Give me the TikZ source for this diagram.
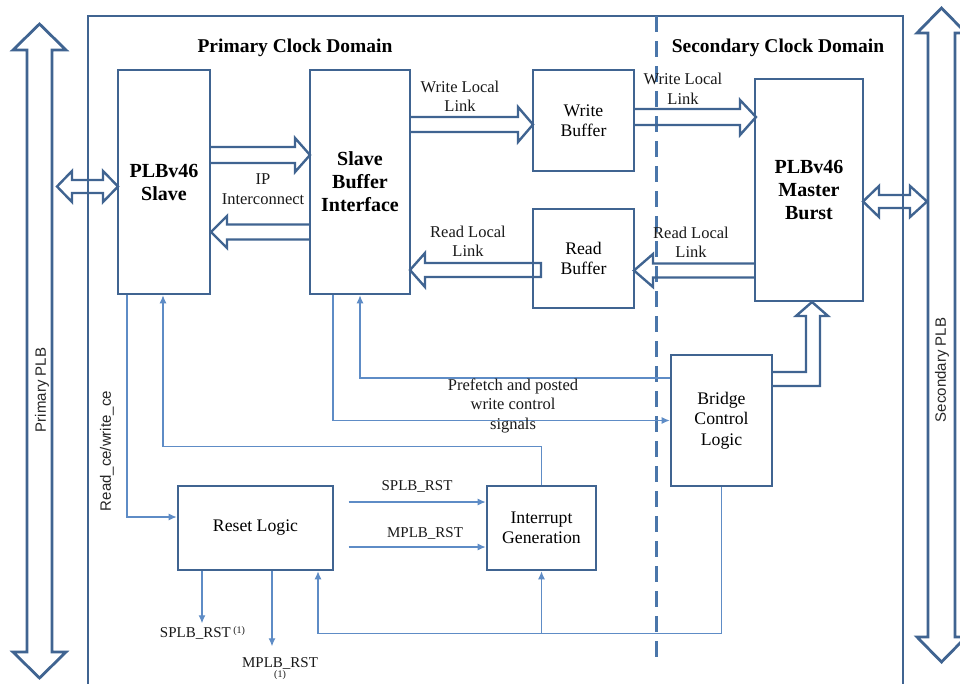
\documentclass[tikz,border=0pt]{standalone}
\usepackage{fontspec}
\setmainfont{Liberation Serif}
\setsansfont{Liberation Sans}
\usetikzlibrary{arrows.meta,calc}
\definecolor{bord}{RGB}{64,100,145}
\definecolor{lnk}{RGB}{94,140,198}
\definecolor{dsh}{RGB}{74,118,170}
\tikzset{
  box/.style={draw=bord, line width=2.6pt, fill=white, align=center, inner sep=2pt},
  nt/.style={font=\fontsize{17.7}{20.5}\selectfont},
  bt/.style={font=\fontsize{20}{23}\selectfont\bfseries},
  lbl/.style={font=\fontsize{16.5}{19.5}\selectfont, align=center, inner sep=0pt, text=black!90},
  sl/.style={font=\fontsize{15}{18}\selectfont, inner sep=0pt, text=black!90},
  ttl/.style={font=\fontsize{19.5}{22}\selectfont\bfseries, inner sep=0pt},
  side/.style={font=\sffamily\fontsize{15}{18}\selectfont, inner sep=0pt, rotate=90, text=black!85},
  conn/.style={draw=lnk, line width=1.2pt, -{Latex[length=8pt,width=7pt]}},
  barrow/.style={draw=bord, line width=2.4pt, line join=miter},
  bus/.style={draw=bord, line width=2.8pt, line join=miter},
}
\begin{document}
\begin{tikzpicture}[x=1pt,y=-1pt]
\useasboundingbox[fill=white] (0,0) rectangle (960,683);

% frame and clock-domain divider
\draw[bord, line width=2.8pt] (88,700) -- (88,16) -- (903,16) -- (903,700);
\draw[dsh, line width=3pt, dash pattern=on 16pt off 9pt] (656,16) -- (656,662);

\node[ttl] (ptitle) at (295,48) {Primary Clock Domain};
\node[ttl] (stitle) at (778,48) {Secondary Clock Domain};

% boxes
\node[box, bt, minimum width=92, minimum height=224] (slave) at (164,182) {PLBv46\\Slave};
\node[box, bt, minimum width=100, minimum height=224] (sbi) at (360,182) {Slave\\Buffer\\Interface};
\node[box, nt, minimum width=101, minimum height=101] (wbuf) at (583.5,120.5) {Write\\Buffer};
\node[box, nt, minimum width=101, minimum height=99] (rbuf) at (583.5,258.5) {Read\\Buffer};
\node[box, bt, minimum width=108, minimum height=222] (master) at (809,190) {PLBv46\\Master\\Burst};
\node[box, nt, minimum width=101, minimum height=131] (bcl) at (721.5,420.5) {Bridge\\Control\\Logic};
\node[box, nt, minimum width=155, minimum height=84] (reset) at (255.5,528) {Reset Logic};
\node[box, nt, minimum width=109, minimum height=84] (intr) at (541.5,528) {Interrupt\\Generation};

% PLB buses
\draw[bus] (27,50) -- (13,50) -- (39.5,24) -- (66,50) -- (52,50) -- (52,652) -- (66,652) -- (39.5,678) -- (13,652) -- (27,652) -- cycle;
\draw[bus] (928,33) -- (917,33) -- (941.5,8) -- (966,33) -- (955,33) -- (955,637) -- (966,637) -- (941.5,662) -- (917,637) -- (928,637) -- cycle;
\node[side] (pplb) at (42,390) {Primary PLB};
\node[side] (splb) at (942,370) {Secondary PLB};

% bus connections
\draw[barrow] (72,180) -- (72,171) -- (57,186.5) -- (72,202) -- (72,193) -- (103,193) -- (103,202) -- (118,186.5) -- (103,171) -- (103,180) -- cycle;
\draw[barrow] (879,195) -- (879,186) -- (863,201.5) -- (879,217) -- (879,208) -- (910,208) -- (910,217) -- (927,201.5) -- (910,186) -- (910,195) -- cycle;

% block arrows
\draw[barrow] (210,147) -- (295,147) -- (295,138) -- (310,155) -- (295,172) -- (295,163) -- (210,163);
\draw[barrow] (310,224.5) -- (227,224.5) -- (227,216) -- (211,232) -- (227,248) -- (227,239.5) -- (310,239.5);
\draw[barrow] (410,117) -- (518,117) -- (518,107) -- (533,124.5) -- (518,142) -- (518,132) -- (410,132);
\draw[barrow] (541,263) -- (425,263) -- (425,253) -- (410,270) -- (425,287) -- (425,277) -- (541,277) -- cycle;
\draw[barrow] (634,109) -- (740,109) -- (740,100) -- (756,117) -- (740,135) -- (740,125) -- (634,125);
\draw[barrow] (755,263.5) -- (653,263.5) -- (653,254) -- (634,270.5) -- (653,287) -- (653,277.5) -- (755,277.5);
\draw[barrow] (772,386) -- (820,386) -- (820,316) -- (828,316) -- (812,302) -- (796,316) -- (806,316) -- (806,372) -- (772,372);

\node[lbl] (ipl) at (263,189) {IP\\Interconnect};
\node[lbl] (wll) at (460,96.5) {Write Local\\Link};
\node[lbl] (rll) at (468,241.5) {Read Local\\Link};
\node[lbl] (wll2) at (683,89) {Write Local\\Link};
\node[lbl] (rll2) at (691,242.5) {Read Local\\Link};

% thin control connections
\draw[conn] ($(slave.south)+(-37,0)$) |- ($(reset.west)+(0,-11)$);
\draw[conn] (intr.north) -- ++(0,-38) -| ($(slave.south)+(-1,0)$);
\draw[conn] ($(sbi.south)+(-27,0)$) |- (bcl.west);
\draw[conn] ($(bcl.west)+(0,-42.5)$) -| (sbi.south);
\node[lbl] (pref) at (513,405.5) {Prefetch and posted\\write control\\signals};
\node[side] (rce) at (107,451) {Read\_ce/write\_ce};

\draw[conn] ($(intr.west)+(-137,-26)$) -- ($(intr.west)+(0,-26)$);
\draw[conn] ($(intr.west)+(-137,19)$) -- ($(intr.west)+(0,19)$);
\node[sl] (s1) at (417,486) {SPLB\_RST};
\node[sl] (m1) at (425,533) {MPLB\_RST};

\coordinate (j) at ($(reset.south)+(62.5,62)$);
\draw[conn] (bcl.south) |- (j) -- ($(reset.south)+(62.5,0)$);
\draw[conn] (intr.south |- j) -- (intr.south);

\draw[conn] ($(reset.south)+(-53.5,0)$) -- ++(0,52);
\draw[conn] ($(reset.south)+(16.5,0)$) -- ++(0,75);
\node[sl] (s2) at (202.5,633) {SPLB\_RST\,\raisebox{4pt}{\fontsize{10}{12}\selectfont(1)}};
\node[sl] (m2) at (280,663) {MPLB\_RST};
\node[sl, font=\fontsize{10}{12}\selectfont] (m2n) at (280,675) {(1)};
\end{tikzpicture}
\end{document}
